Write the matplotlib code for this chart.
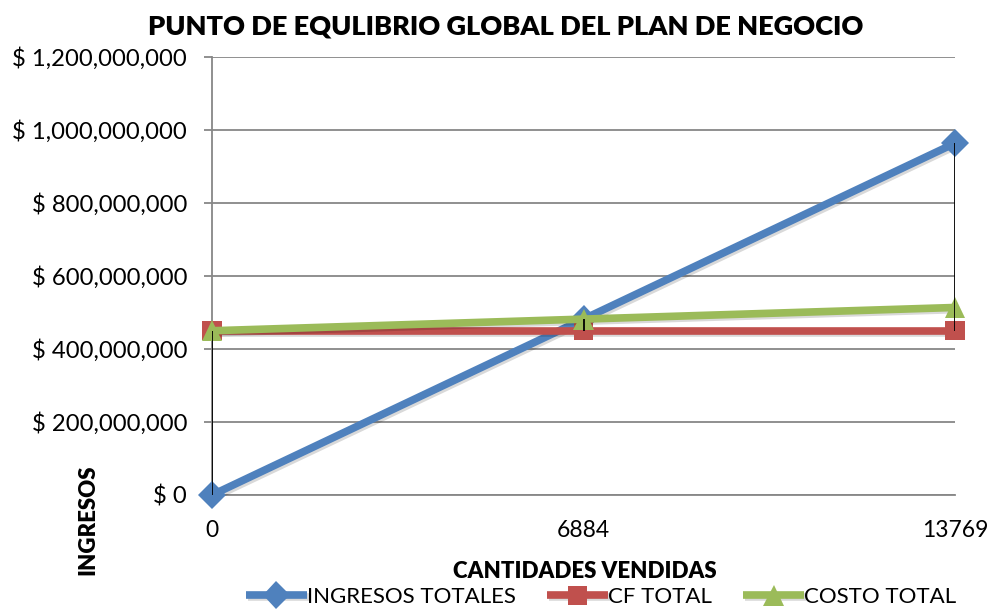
import matplotlib
matplotlib.use("Agg")
import matplotlib.pyplot as plt
import matplotlib.patheffects as pe
from matplotlib.ticker import FuncFormatter

# Break-even data for the business plan
cantidades = ["0", "6884", "13769"]
ingresos_totales = [0, 481880000, 963830000]
cf_total = [450000000, 450000000, 450000000]
costo_total = [450000000, 481880000, 513760000]

y_ticks = [0, 200000000, 400000000, 600000000, 800000000, 1000000000, 1200000000]

plt.rcParams["font.family"] = ["Lato", "DejaVu Sans"]

fig = plt.figure(figsize=(9.9, 6.09), dpi=100)
ax = fig.add_axes([212 / 990, 1 - 495 / 609, (955 - 212) / 990, (495 - 57) / 609])

x = list(range(len(cantidades)))
shadow = [pe.SimpleLineShadow(offset=(1.5, -1.5), alpha=0.15, shadow_color="black"), pe.Normal()]

series = [
    (ingresos_totales, "#4F81BD", "D", "INGRESOS TOTALES", 14),
    (cf_total, "#C0504D", "s", "CF TOTAL", 14),
    (costo_total, "#9BBB59", "^", "COSTO TOTAL", 15),
]
for vals, color, marker, label, ms in series:
    ax.plot(x, vals, color=color, lw=5.5, marker=marker, markersize=ms,
            markeredgewidth=0, label=label, solid_capstyle="butt",
            path_effects=shadow, zorder=3, clip_on=False)

# High-low lines connecting the series at each category
for i in x:
    vals = [ingresos_totales[i], cf_total[i], costo_total[i]]
    ax.vlines(i, min(vals), max(vals), color="black", lw=1.3, zorder=5)

ax.set_xlim(0, len(cantidades) - 1)
ax.set_ylim(0, 1200000000)
ax.set_yticks(y_ticks)
ax.yaxis.set_major_formatter(FuncFormatter(lambda v, p: "$ 0" if v == 0 else "$ {:,.0f}".format(v)))
ax.set_xticks(x)
ax.set_xticklabels(cantidades)

ax.grid(axis="y", color="#878787", lw=1.3)
ax.set_axisbelow(True)
for s in ["top", "right"]:
    ax.spines[s].set_visible(False)
ax.spines["left"].set_color("#878787")
ax.spines["bottom"].set_color("#878787")
ax.spines["left"].set_linewidth(1.3)
ax.spines["bottom"].set_linewidth(1.3)
ax.tick_params(axis="y", length=6, width=1.3, color="#878787", labelsize=17.2, pad=12)
ax.tick_params(axis="x", length=0, labelsize=16.5, pad=18)

fig.text(506 / 990, 1 - 26 / 609, "PUNTO DE EQULIBRIO GLOBAL DEL PLAN DE NEGOCIO",
         ha="center", va="center", fontsize=19.5, fontweight="heavy")
fig.text(585 / 990, 1 - 571 / 609, "CANTIDADES VENDIDAS",
         ha="center", va="center", fontsize=16, fontweight="heavy")
fig.text(88 / 990, 1 - 520 / 609, "INGRESOS", rotation=90,
         ha="center", va="center", fontsize=16, fontweight="heavy")

leg = fig.legend(loc="center", bbox_to_anchor=(601 / 990, 1 - 597 / 609), ncol=3,
                 frameon=False, fontsize=16, handlelength=2.75, handletextpad=0.0,
                 columnspacing=1.4, borderaxespad=0)

fig.savefig("out.png", dpi=100)
